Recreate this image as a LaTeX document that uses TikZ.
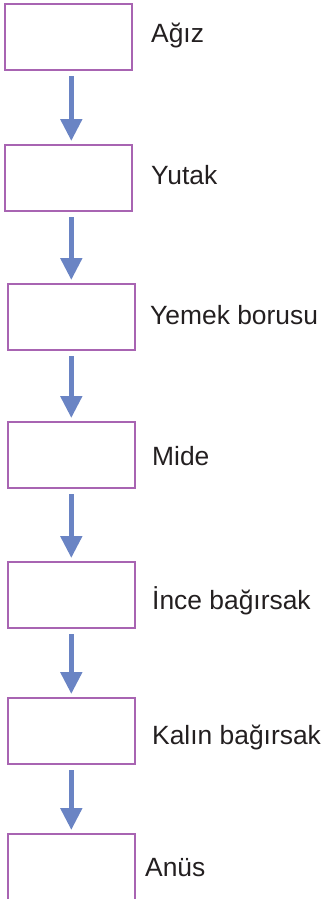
\documentclass[tikz,border=0pt]{standalone}
\usepackage{fontspec}
\setmainfont{Liberation Sans}
\usetikzlibrary{arrows.meta}
\definecolor{boxpurple}{RGB}{168,100,178}
\definecolor{arrowblue}{RGB}{106,132,196}
\definecolor{textdark}{RGB}{35,31,32}
\begin{document}
\begin{tikzpicture}[x=1pt,y=-1pt,
  organ/.style={draw=boxpurple,line width=2.4pt,fill=white,anchor=north west,
    minimum width=127pt,minimum height=66pt,inner sep=0pt,outer sep=0pt},
  label/.style={anchor=base west,inner sep=0pt,text=textdark,
    font=\fontsize{26.4}{31}\selectfont},
  flow/.style={draw=arrowblue,line width=5pt,
    -{Triangle[length=22pt,width=21pt]},shorten <=6pt,shorten >=4pt}]
\useasboundingbox (0,0) rectangle (327,899);
\coordinate (ax) at (71.3,0);
\node[organ] (b1) at (5,4) {};
\node[organ] (b2) at (5,145) {};
\node[organ] (b3) at (8,284) {};
\node[organ] (b4) at (8,422) {};
\node[organ] (b5) at (8,562) {};
\node[organ] (b6) at (8,698) {};
\node[organ,minimum height=120pt] (b7) at (8,834) {};
\node[label] (t1) at (151,43) {Ağız};
\node[label] (t2) at (151,184) {Yutak};
\node[label] (t3) at (150,324) {Yemek borusu};
\node[label] (t4) at (152,465) {Mide};
\node[label] (t5) at (152,609) {İnce bağırsak};
\node[label] (t6) at (152,744) {Kalın bağırsak};
\node[label] (t7) at (145,876) {Anüs};
\foreach \a/\b in {b1/b2,b2/b3,b3/b4,b4/b5,b5/b6,b6/b7}
  \draw[flow] (\a.south -| ax) -- (\b.north -| ax);
\end{tikzpicture}
\end{document}
